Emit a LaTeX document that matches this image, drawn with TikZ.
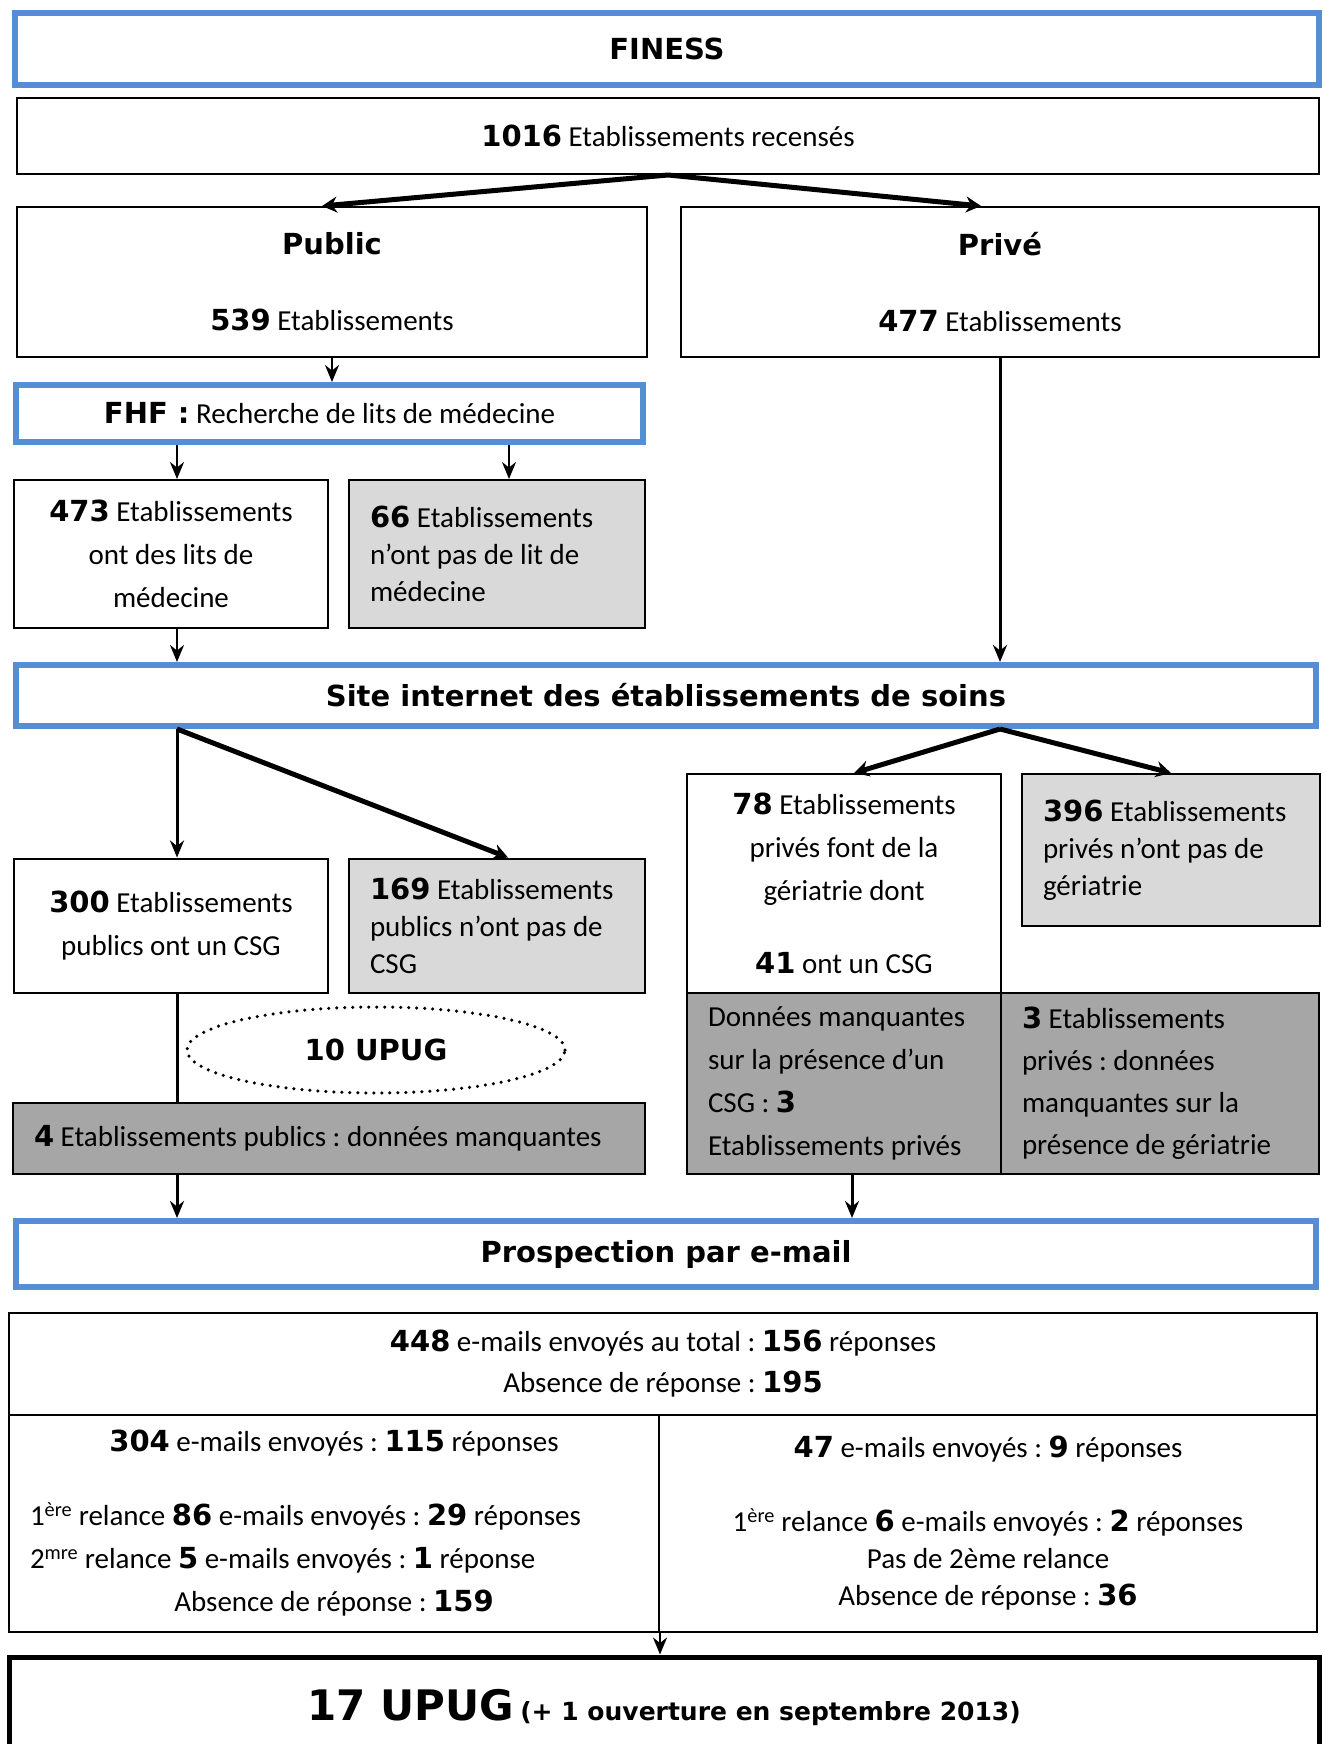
\documentclass[tikz,border=0pt]{standalone}
\usepackage{fontspec}
\setmainfont{Carlito}
\newfontfamily\blkfont{DejaVu Sans}
\usepackage{tikz}
\usetikzlibrary{arrows.meta,shapes.geometric}
\definecolor{cadre}{RGB}{85,142,213}
\definecolor{grisclair}{RGB}{217,217,217}
\definecolor{grisfonce}{RGB}{166,166,166}
\newcommand{\nb}[1]{{\blkfont\bfseries #1}}
\frenchspacing

\begin{document}
\begin{tikzpicture}[x=1pt, y=-1pt,
  every node/.style={font=\fontsize{29}{43}\selectfont, inner sep=0pt},
  titre/.style={draw=cadre, line width=6pt, fill=white},
  boite/.style={draw, line width=2pt, align=flush center},
  gauche/.style={draw, line width=2pt, align=flush left},
  serre/.style={font=\fontsize{29}{37}\selectfont},
  clair/.style={fill=grisclair},
  fonce/.style={fill=grisfonce},
  fleche/.style={-{Stealth[length=17pt, width=14pt]}, line width=2.5pt},
  grosse/.style={-{Stealth[length=15pt, width=16pt]}, line width=5pt}]
\useasboundingbox (0,0) rectangle (1322,1744);

\draw
(667, 49) node[titre, minimum width=1304pt, minimum height=72pt](finess){\nb{FINESS}}
(668, 136) node[boite, minimum width=1302pt, minimum height=76pt](total){\nb{1016} Etablissements recensés}
(332, 282) node[boite, minimum width=630pt, minimum height=150pt](public){\nb{Public}\\[33pt]\nb{539} Etablissements}
(1000, 282) node[boite, minimum width=638pt, minimum height=150pt](prive){\nb{Privé}\\[33pt]\nb{477} Etablissements}
(329.5, 413.5) node[titre, minimum width=627pt, minimum height=57pt](fhf){\nb{FHF :} Recherche de lits de médecine}
(171, 554) node[boite, minimum width=314pt, minimum height=148pt](a473){\nb{473} Etablissements\\ont des lits de\\médecine}
(497, 554) node[gauche, serre, clair, text width=254pt, minimum width=296pt, minimum height=148pt](a66){\nb{66} Etablissements\\n’ont pas de lit de\\médecine}
(666, 695.5) node[titre, minimum width=1300pt, minimum height=61pt](site){\nb{Site internet des établissements de soins}}
(171, 925.5) node[boite, minimum width=314pt, minimum height=134pt](a300){\nb{300} Etablissements\\publics ont un CSG}
(497, 925.5) node[gauche, serre, clair, text width=254pt, minimum width=296pt, minimum height=134pt](a169){\nb{169} Etablissements\\publics n’ont pas de\\CSG}
(376, 1050) node[ellipse, draw, line width=3.5pt, line cap=round, dash pattern=on 0pt off 8pt, minimum width=378pt, minimum height=86pt](upug10){\nb{10 UPUG}}
(329, 1138.5) node[gauche, fonce, text width=590pt, minimum width=632pt, minimum height=71pt](a4){\nb{4} Etablissements publics : données manquantes}
(844, 883.5) node[boite, minimum width=314pt, minimum height=219pt](a78){\nb{78} Etablissements\\privés font de la\\gériatrie dont\\[30pt]\nb{41} ont un CSG}
(1171, 850) node[gauche, serre, clair, text width=256pt, minimum width=298pt, minimum height=152pt](a396){\nb{396} Etablissements\\privés n’ont pas de\\gériatrie}
(844, 1083.5) node[gauche, fonce, text width=272pt, minimum width=314pt, minimum height=181pt](manq){Données manquantes\\sur la présence d’un\\CSG : \nb{3}\\Etablissements privés}
(1160, 1083.5) node[gauche, fonce, font=\fontsize{29}{42}\selectfont, text width=276pt, minimum width=318pt, minimum height=181pt](a3){\nb{3} Etablissements\\privés : données\\manquantes sur la\\présence de gériatrie}
(666, 1254) node[titre, minimum width=1300pt, minimum height=66pt](prosp){\nb{Prospection par e-mail}}
(663, 1364) node[boite, font=\fontsize{29}{41}\selectfont, minimum width=1308pt, minimum height=102pt](etot){\nb{448} e-mails envoyés au total : \nb{156} réponses\\Absence de réponse : \nb{195}}
(334, 1523.5) node[boite, text width=608pt, minimum width=650pt, minimum height=217pt](egauche){\nb{304} e-mails envoyés : \nb{115} réponses\\[31pt]\makebox[608pt][l]{1\textsuperscript{ère} relance \nb{86} e-mails envoyés : \nb{29} réponses}\\\makebox[608pt][l]{2\textsuperscript{mre} relance \nb{5} e-mails envoyés : \nb{1} réponse}\\Absence de réponse : \nb{159}}
(988, 1523.5) node[boite, serre, minimum width=658pt, minimum height=217pt](edroite){\nb{47} e-mails envoyés : \nb{9} réponses\\[37pt]1\textsuperscript{ère} relance \nb{6} e-mails envoyés : \nb{2} réponses\\Pas de 2ème relance\\Absence de réponse : \nb{36}}
(664, 1707) node[draw, line width=5pt, minimum width=1310pt, minimum height=100pt](upug){\nb{\fontsize{42}{50}\selectfont 17 UPUG} {\blkfont\bfseries\fontsize{25}{30}\selectfont (+ 1 ouverture en septembre 2013)}};

% FINESS -> public / prive
\draw[grosse] (total.south) -- ([xshift=-10pt]public.north);
\draw[grosse] (total.south) -- ([xshift=-19pt]prive.north);
\draw[fleche] (public.south) -- (public.south |- fhf.north);
\draw[fleche] ([xshift=6pt]a473.north |- fhf.south) -- ([xshift=6pt]a473.north);
\draw[fleche] ([xshift=12pt]a66.north |- fhf.south) -- ([xshift=12pt]a66.north);
\draw[fleche] ([xshift=6pt]a473.south) -- ([xshift=6pt]a473.south |- site.north);
\draw[fleche, line width=3pt] (prive.south) -- (prive.south |- site.north);

% site internet
\draw[fleche, line width=3pt] ([xshift=6pt]a300.north |- site.south) -- ([xshift=6pt]a300.north);
\draw[grosse] ([xshift=6pt]a300.north |- site.south) -- ([xshift=11pt]a169.north);
\draw[grosse] (prive.south |- site.south) -- ([xshift=10pt]a78.north);
\draw[grosse] (prive.south |- site.south) -- (a396.north);
\draw[line width=3pt] ([xshift=6pt]a300.south) -- ([xshift=6pt]a300.south |- a4.north);

% prospection
\draw[fleche, line width=3pt] ([xshift=6pt]a300.south |- a4.south) -- ([xshift=6pt]a300.south |- prosp.north);
\draw[fleche, line width=3pt] ([xshift=8pt]manq.south) -- ([xshift=8pt]manq.south |- prosp.north);
\draw[fleche] (egauche.south east) -- (egauche.south east |- upug.north);

\end{tikzpicture}
\end{document}
